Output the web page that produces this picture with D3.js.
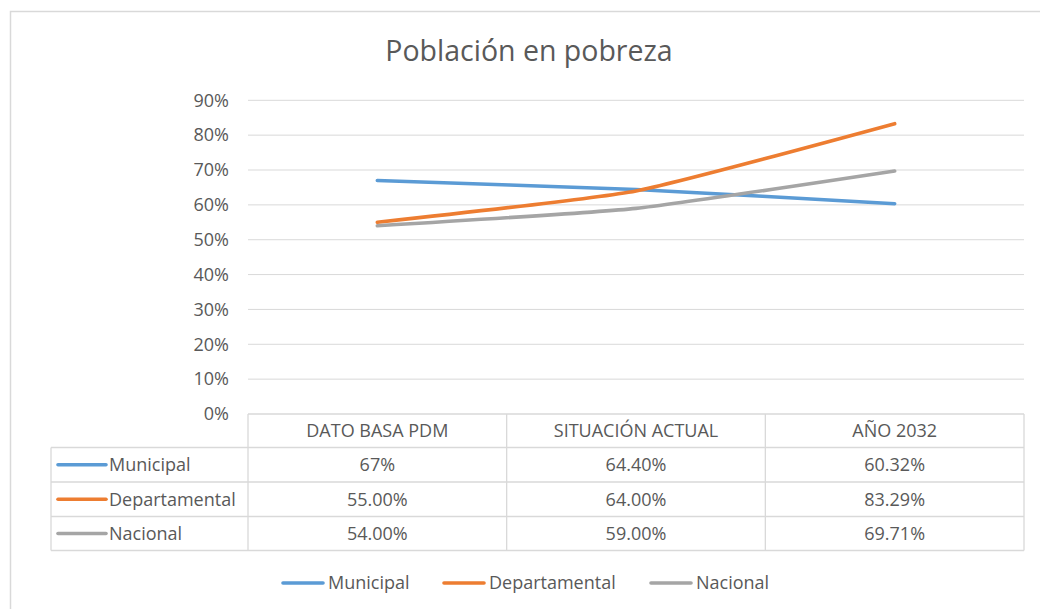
<!DOCTYPE html>
<html><head><meta charset="utf-8">
<script src="https://cdn.jsdelivr.net/npm/d3@7"></script>
<style>
html,body{margin:0;padding:0;background:#fff;}
svg{display:block;font-family:"Open Sans",sans-serif;}
</style></head>
<body>
<svg id="chart" width="1040" height="609"></svg>
<script>
const title = "Población en pobreza";
const categories = ["DATO BASA PDM", "SITUACIÓN ACTUAL", "AÑO 2032"];
const seriesNames = ["Municipal", "Departamental", "Nacional"];
const municipal = [0.67, 0.644, 0.6032];
const departamental = [0.55, 0.64, 0.8329];
const nacional = [0.54, 0.59, 0.6971];
const municipalLabels = ["67%", "64.40%", "60.32%"];
const departamentalLabels = ["55.00%", "64.00%", "83.29%"];
const nacionalLabels = ["54.00%", "59.00%", "69.71%"];
const yTicks = [0, 0.1, 0.2, 0.3, 0.4, 0.5, 0.6, 0.7, 0.8, 0.9];
const colors = ["#5B9BD5", "#ED7D31", "#A5A5A5"];

const series = [
  {name: seriesNames[0], values: municipal, labels: municipalLabels, color: colors[0]},
  {name: seriesNames[1], values: departamental, labels: departamentalLabels, color: colors[1]},
  {name: seriesNames[2], values: nacional, labels: nacionalLabels, color: colors[2]}
];

const svg = d3.select("#chart");
const textColor = "#595959", gridColor = "#d9d9d9";
const plotL = 248, plotR = 1024, plotT = 100.3, plotB = 414;

// outer chart border
svg.append("rect").attr("x", 10.5).attr("y", 11.5).attr("width", 1060).attr("height", 640)
  .attr("fill", "none").attr("stroke", gridColor).attr("stroke-width", 1.5);

// title
svg.append("text").attr("x", 529).attr("y", 61).attr("text-anchor", "middle")
  .attr("font-size", 28.5).attr("fill", textColor).text(title);

const x = d3.scalePoint().domain(categories).range([plotL, plotR]).padding(0.5);
const y = d3.scaleLinear().domain([0, 0.9]).range([plotB, plotT]);

// gridlines
svg.append("g").selectAll("line").data(yTicks.filter(d => d > 0)).join("line")
  .attr("x1", plotL).attr("x2", plotR)
  .attr("y1", d => y(d)).attr("y2", d => y(d))
  .attr("stroke", gridColor).attr("stroke-width", 1);

// y axis labels
const yAxis = d3.axisLeft(y).tickValues(yTicks).tickFormat(d3.format(".0%")).tickSize(0).tickPadding(19);
const ya = svg.append("g").attr("transform", `translate(${plotL},0)`).call(yAxis);
ya.select(".domain").remove();
ya.selectAll("text").attr("font-size", 18).attr("fill", textColor).attr("font-family", "Open Sans");

// lines
const line = d3.line().x((d, i) => x(categories[i])).y(d => y(d)).curve(d3.curveCardinal.tension(0.55));
svg.append("g").selectAll("path").data(series).join("path")
  .attr("d", s => line(s.values))
  .attr("fill", "none").attr("stroke", s => s.color).attr("stroke-width", 3.6)
  .attr("stroke-linecap", "round").attr("stroke-linejoin", "round");

// data table
const tableL = 51;
const rowY = [414, 447.5, 482, 516.5, 550.5];
const colX = [plotL, plotL + x.step(), plotL + 2 * x.step(), plotR];
const tg = svg.append("g").attr("stroke", gridColor).attr("stroke-width", 1.3);
// horizontal
tg.append("line").attr("x1", plotL).attr("x2", plotR).attr("y1", rowY[0]).attr("y2", rowY[0]);
rowY.slice(1).forEach(ry => tg.append("line").attr("x1", tableL).attr("x2", plotR).attr("y1", ry).attr("y2", ry));
// vertical
colX.forEach(cx => tg.append("line").attr("x1", cx).attr("x2", cx).attr("y1", rowY[0]).attr("y2", rowY[4]));
tg.append("line").attr("x1", tableL).attr("x2", tableL).attr("y1", rowY[1]).attr("y2", rowY[4]);

// header text
svg.append("g").selectAll("text").data(categories).join("text")
  .attr("x", d => x(d)).attr("y", (rowY[0] + rowY[1]) / 2).attr("dy", "0.35em")
  .attr("text-anchor", "middle").attr("font-size", 18).attr("fill", textColor).text(d => d);

series.forEach((s, si) => {
  const cy = (rowY[si + 1] + rowY[si + 2]) / 2;
  svg.append("line").attr("x1", 58).attr("x2", 106).attr("y1", cy).attr("y2", cy)
    .attr("stroke", s.color).attr("stroke-width", 3.6).attr("stroke-linecap", "round");
  svg.append("text").attr("x", 109).attr("y", cy).attr("dy", "0.35em")
    .attr("font-size", 18).attr("fill", textColor).text(s.name);
  svg.append("g").selectAll("text").data(s.labels).join("text")
    .attr("x", (d, i) => x(categories[i])).attr("y", cy).attr("dy", "0.35em")
    .attr("text-anchor", "middle").attr("font-size", 18).attr("fill", textColor).text(d => d);
});

// bottom legend
const legendX = [283, 444, 651];
const lg = svg.append("g");
series.forEach((s, i) => {
  const ly = 583;
  lg.append("line").attr("x1", legendX[i]).attr("x2", legendX[i] + 40).attr("y1", ly).attr("y2", ly)
    .attr("stroke", s.color).attr("stroke-width", 3.6).attr("stroke-linecap", "round");
  lg.append("text").attr("x", legendX[i] + 45).attr("y", ly).attr("dy", "0.35em")
    .attr("font-size", 18).attr("fill", textColor).text(s.name);
});
</script>
</body></html>
